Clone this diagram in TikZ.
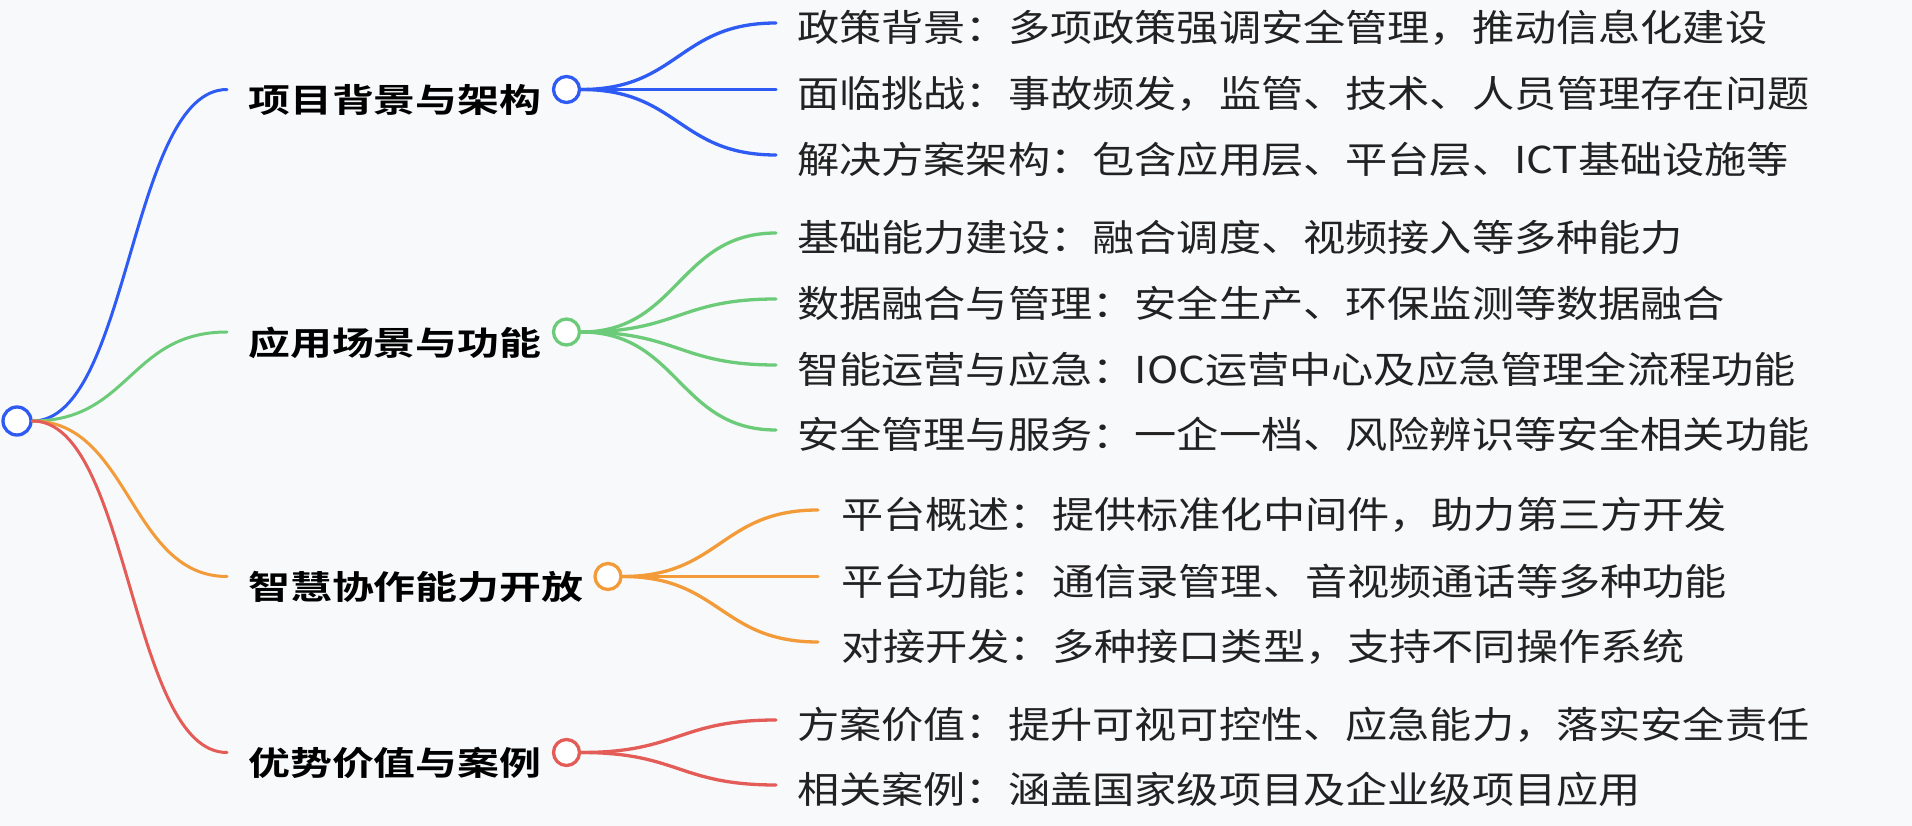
\documentclass[tikz,border=0pt]{standalone}
\usepackage{fontspec}
\usepackage{xcolor}
\usepackage{tikz}
\usetikzlibrary{positioning, calc}
\newfontfamily\cjk{Noto Sans CJK SC}[FakeStretch=1.14]
\newfontfamily\cjkbold{Noto Sans CJK SC Bold}[FakeStretch=1.27]
\definecolor{mapblue}{HTML}{2F5BF5}
\definecolor{mapgreen}{HTML}{6CCB78}
\definecolor{maporange}{HTML}{F29B38}
\definecolor{mapred}{HTML}{E45C57}
\definecolor{mapbg}{HTML}{F8F9FB}
\definecolor{mapink}{HTML}{222222}

\begin{document}
\begin{tikzpicture}[
    x=1pt, y=-1pt,
    dot/.style={circle, draw, fill=white, line width=3.3pt, inner sep=0pt, minimum size=26pt},
    topic/.style={font=\cjkbold\fontsize{33}{36}\selectfont, text=black, inner sep=0pt},
    leaf/.style={font=\cjk\fontsize{37}{40}\selectfont, text=mapink, inner sep=0pt},
    link/.style={line width=3pt, line cap=round, to path={let \p1=(\tikztostart), \p2=(\tikztotarget) in .. controls ({(\x1+\x2)/2},\y1) and ({(\x1+\x2)/2},\y2) .. (\tikztotarget) \tikztonodes}},
    twig/.style={link, line width=3.3pt},
]

% Canvas
\fill[mapbg] (0,0) rectangle (1912,826);
\useasboundingbox (0,0) rectangle (1912,826);

% Root
\node[dot, draw=mapblue, minimum size=28pt] (root) at (17,421) {};

% Branch ends and knots
\coordinate (b1in) at (227,89.5);
\coordinate (b2in) at (227,332);
\coordinate (b3in) at (227,576.5);
\coordinate (b4in) at (227,752.5);

\node[topic, right=21pt of b1in, yshift=-10.5pt] (t1) {项目背景与架构};
\node[topic, right=21pt of b2in, yshift=-10.5pt] (t2) {应用场景与功能};
\node[topic, right=21pt of b3in, yshift=-10.5pt] (t3) {智慧协作能力开放};
\node[topic, right=21pt of b4in, yshift=-10.5pt] (t4) {优势价值与案例};

\node[dot, draw=mapblue] (b1) at (566.5,89.5) {};
\node[dot, draw=mapgreen] (b2) at (566.5,332) {};
\node[dot, draw=maporange] (b3) at (608,576.5) {};
\node[dot, draw=mapred] (b4) at (566.5,752.5) {};

% Leaf ends
\coordinate (l11) at (776,23);
\coordinate (l12) at (776,89.5);
\coordinate (l13) at (776,155);
\coordinate (l21) at (776,233);
\coordinate (l22) at (776,299);
\coordinate (l23) at (776,365);
\coordinate (l24) at (776,430);
\coordinate (l31) at (818,510);
\coordinate (l32) at (818,576.5);
\coordinate (l33) at (818,642);
\coordinate (l41) at (776,720);
\coordinate (l42) at (776,785);

% Leaves
\node[leaf, right=21pt of l11, yshift=-4.5pt] (n11) {政策背景：多项政策强调安全管理，推动信息化建设};
\node[leaf, right=21pt of l12, yshift=-4.5pt] (n12) {面临挑战：事故频发，监管、技术、人员管理存在问题};
\node[leaf, right=21pt of l13, yshift=-4.5pt] (n13) {解决方案架构：包含应用层、平台层、ICT基础设施等};
\node[leaf, right=21pt of l21, yshift=-4.5pt] (n21) {基础能力建设：融合调度、视频接入等多种能力};
\node[leaf, right=21pt of l22, yshift=-4.5pt] (n22) {数据融合与管理：安全生产、环保监测等数据融合};
\node[leaf, right=21pt of l23, yshift=-4.5pt] (n23) {智能运营与应急：IOC运营中心及应急管理全流程功能};
\node[leaf, right=21pt of l24, yshift=-4.5pt] (n24) {安全管理与服务：一企一档、风险辨识等安全相关功能};
\node[leaf, right=23pt of l31, yshift=-4.5pt] (n31) {平台概述：提供标准化中间件，助力第三方开发};
\node[leaf, right=23pt of l32, yshift=-4.5pt] (n32) {平台功能：通信录管理、音视频通话等多种功能};
\node[leaf, right=23pt of l33, yshift=-4.5pt] (n33) {对接开发：多种接口类型，支持不同操作系统};
\node[leaf, right=21pt of l41, yshift=-4.5pt] (n41) {方案价值：提升可视可控性、应急能力，落实安全责任};
\node[leaf, right=21pt of l42, yshift=-4.5pt] (n42) {相关案例：涵盖国家级项目及企业级项目应用};

% Root links
\draw[link, mapblue] (root.east) to (b1in);
\draw[link, mapgreen] (root.east) to (b2in);
\draw[link, maporange] (root.east) to (b3in);
\draw[link, mapred] (root.east) to (b4in);

% Leaf links
\foreach \k in {1,2,3} \draw[twig, mapblue] (b1.east) to (l1\k);
\foreach \k in {1,2,3,4} \draw[twig, mapgreen] (b2.east) to (l2\k);
\foreach \k in {1,2,3} \draw[twig, maporange] (b3.east) to (l3\k);
\foreach \k in {1,2} \draw[twig, mapred] (b4.east) to (l4\k);

\end{tikzpicture}
\end{document}
